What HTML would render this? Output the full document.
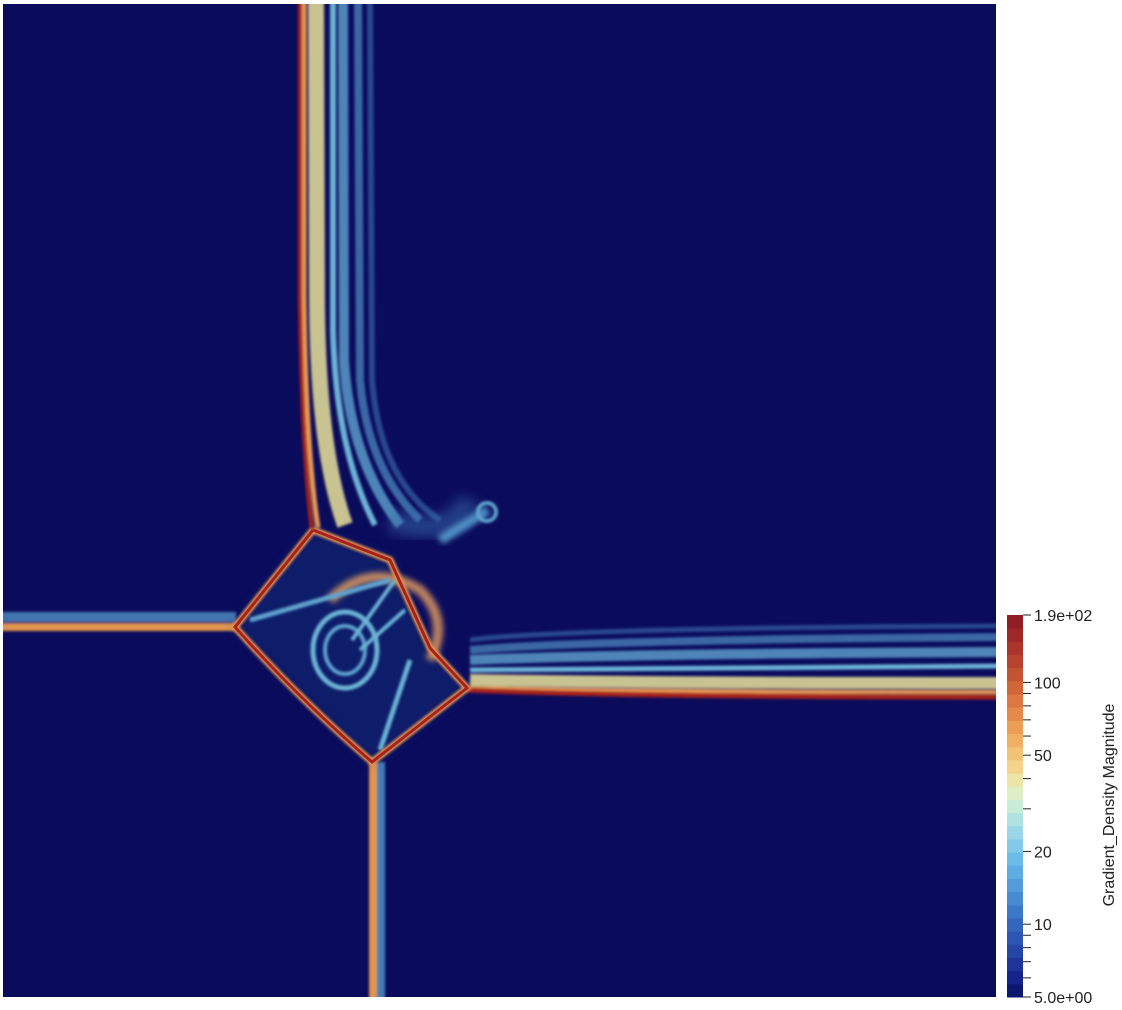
<!DOCTYPE html>
<html><head><meta charset="utf-8"><style>
html,body{margin:0;padding:0;background:#fff;width:1122px;height:1010px;overflow:hidden}
svg{display:block}
text{font-family:"Liberation Sans",sans-serif}
</style></head><body>
<svg width="1122" height="1010" viewBox="0 0 1122 1010">
<defs>
<filter id="b1" x="-20%" y="-20%" width="140%" height="140%"><feGaussianBlur stdDeviation="1.2"/></filter>
<filter id="b3" x="-20%" y="-20%" width="140%" height="140%"><feGaussianBlur stdDeviation="3"/></filter>
<filter id="b6" x="-50%" y="-50%" width="200%" height="200%"><feGaussianBlur stdDeviation="6"/></filter>
<clipPath id="pc"><rect x="3" y="4" width="993" height="993"/></clipPath>
</defs>
<g clip-path="url(#pc)">
<rect x="3" y="4" width="993" height="993" fill="#0b0b5c"/>
<g fill="none" filter="url(#b1)">
<path d="M370 0 L372 380 Q380 480 440 520" stroke="#3a6fb0" stroke-width="6" opacity="0.6"/>
<path d="M358 0 L360 380 Q368 470 420 520" stroke="#4f8fc4" stroke-width="8" opacity="0.7"/>
<path d="M343 0 L344 360 Q350 460 400 525" stroke="#5fa3cf" stroke-width="10" opacity="0.8"/>
<path d="M333 0 L333 330 Q336 450 375 525" stroke="#6cb3d6" stroke-width="6"/>
<path d="M316 0 L317 300 Q318 450 345 525" stroke="#c9c291" stroke-width="16"/>
<path d="M304 0 L304 300 Q306 450 318 528" stroke="#e89a55" stroke-width="5"/>
<path d="M300 0 L300 300 Q302 450 312 530" stroke="#a8201e" stroke-width="4"/>
</g>
<g fill="none" filter="url(#b1)">
<path d="M470 640 Q560 628 1000 626" stroke="#3a6fb0" stroke-width="5" opacity="0.6"/>
<path d="M470 650 Q580 640 1000 637" stroke="#4f8fc4" stroke-width="8" opacity="0.7"/>
<path d="M470 660 Q600 654 1000 652" stroke="#5fa3cf" stroke-width="10" opacity="0.8"/>
<path d="M470 670 Q620 668 1000 666" stroke="#6cb3d6" stroke-width="5"/>
<path d="M470 680 Q640 683 1000 683" stroke="#c9c291" stroke-width="12"/>
<path d="M470 688 Q640 692 1000 692" stroke="#e89a55" stroke-width="4"/>
<path d="M467 690 Q640 697 1000 697" stroke="#a8201e" stroke-width="5"/>
</g>
<g filter="url(#b1)">
<rect x="0" y="612" width="236" height="10" fill="#4f8fc4" opacity="0.8"/>
<rect x="0" y="623" width="236" height="8" fill="#e0944e"/>
</g>
<g filter="url(#b1)">
<rect x="377" y="762" width="8" height="240" fill="#4f8fc4" opacity="0.85"/>
<rect x="369" y="762" width="8" height="240" fill="#e0944e"/>
</g>
<g>
<polygon points="313,530 235,627 372,762 467,688 430,648 390,560" fill="#173f86" opacity="0.35" filter="url(#b6)"/>
<path d="M390 520 Q450 540 470 500" fill="none" stroke="#3a6fb0" stroke-width="22" opacity="0.5" filter="url(#b6)"/>
<path d="M330 600 Q370 560 420 590 Q450 620 430 660" fill="none" stroke="#e8a060" stroke-width="10" opacity="0.8" filter="url(#b3)"/>
<path d="M440 540 L488 510" stroke="#4f8fc4" stroke-width="10" filter="url(#b3)"/>
<circle cx="487" cy="512" r="9" fill="none" stroke="#5fa3cf" stroke-width="4" filter="url(#b1)"/>
<ellipse cx="345" cy="650" rx="32" ry="38" fill="none" stroke="#6cb3d6" stroke-width="5" filter="url(#b1)"/>
<ellipse cx="345" cy="650" rx="20" ry="24" fill="none" stroke="#5fa3cf" stroke-width="4" filter="url(#b1)"/>
<path d="M250 620 L390 580" stroke="#5fa3cf" stroke-width="5" filter="url(#b1)"/>
<path d="M380 750 L410 660" stroke="#6cb3d6" stroke-width="5" filter="url(#b1)"/>
<path d="M352 640 L395 580" stroke="#6cb3d6" stroke-width="4" filter="url(#b1)"/>
<path d="M360 650 L405 610" stroke="#6cb3d6" stroke-width="4" filter="url(#b1)"/>
<path d="M313 530 L235 627 Q300 700 372 762 L467 688 L430 648 L390 560 L313 530" fill="none" stroke="#e0944e" stroke-width="7" filter="url(#b1)"/>
<path d="M313 530 L235 627 Q300 700 372 762 L467 688 L430 648 L390 560 L313 530" fill="none" stroke="#a8201e" stroke-width="3"/>
</g>
</g>
<g id="cb"></g>
<text x="1114" y="805" font-size="16" fill="#222" text-anchor="middle" transform="rotate(-90 1114 805)">Gradient_Density Magnitude</text>
</svg>
<script>
const cbMin = 5, cbMax = 190;
const majorTicks = [100, 50, 20, 10];
const minorTicks = [90, 80, 70, 60, 40, 30, 9, 8, 7, 6];
const cbColors = ["#0c1770","#16238a","#1e3499","#2645a8","#2c55b4","#3466be","#3d78c8","#488ad2","#539bda","#5eace2","#6cbbe8","#82c9ea","#9ad6e8","#b1e2e2","#c9ecd8","#dfeec4","#ece5a6","#f3d48a","#f2c276","#f0b064","#ec9e56","#e68a4b","#dd7842","#d1653a","#c45334","#b8432f","#ac352b","#9e2828","#921d24"];
const svg = document.querySelector('svg');
const cb = document.getElementById('cb');
const NS = 'http://www.w3.org/2000/svg';
const y0 = 997, y1 = 615, cx = 1007, cw = 16;
function yScale(v){return y0 - (Math.log(v/cbMin)/Math.log(cbMax/cbMin))*(y0-y1);}
const n = cbColors.length, h = (y0-y1)/n;
cbColors.forEach((c,i)=>{
  const r = document.createElementNS(NS,'rect');
  r.setAttribute('x',cx); r.setAttribute('y',y0-(i+1)*h); r.setAttribute('width',cw); r.setAttribute('height',h+0.5); r.setAttribute('fill',c);
  
  
  cb.appendChild(r);
});
function tick(y,len){
  const l=document.createElementNS(NS,'line');
  l.setAttribute('x1',cx+cw);l.setAttribute('x2',cx+cw+len);l.setAttribute('y1',y);l.setAttribute('y2',y);l.setAttribute('stroke','#222');l.setAttribute('stroke-width','1');
  
  
  cb.appendChild(l);
}
function label(y,t){
  const e=document.createElementNS(NS,'text');
  e.setAttribute('x',cx+cw+11);e.setAttribute('y',y+6);e.setAttribute('font-size','16');e.setAttribute('fill','#222');e.textContent=t;
  
  
  cb.appendChild(e);
}
majorTicks.forEach(v=>{tick(yScale(v),8);label(yScale(v),String(v));});
minorTicks.forEach(v=>tick(yScale(v),8));
tick(y1,8);label(y1,'1.9e+02');
tick(y0,8);label(y0,'5.0e+00');
</script>
</body></html>
